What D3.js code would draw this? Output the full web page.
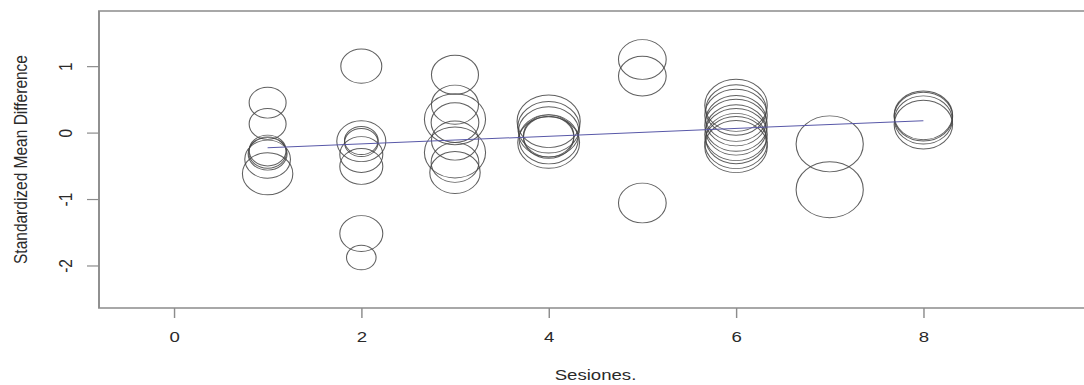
<!DOCTYPE html>
<html>
<head>
<meta charset="utf-8">
<script src="https://cdn.jsdelivr.net/npm/d3@7"></script>
<style>
  body { margin: 0; background: #fff; overflow: hidden; }
  svg { display: block; }
</style>
</head>
<body>
<div id="chart"></div>
<script>
// Study-level effects: number of sessions, standardized mean difference, relative weight
const sessions = [
  1, 1, 1, 1, 1, 1, 1,
  2, 2, 2, 2, 2, 2, 2, 2,
  3, 3, 3, 3, 3, 3, 3, 3,
  4, 4, 4, 4, 4, 4, 4,
  5, 5, 5,
  6, 6, 6, 6, 6, 6, 6, 6, 6, 6,
  7, 7,
  8, 8, 8, 8
];
const smd = [
  0.45, 0.13, -0.27, -0.30, -0.32, -0.40, -0.62,
  1.00, -0.13, -0.12, -0.15, -0.33, -0.51, -1.52, -1.88,
  0.87, 0.42, 0.20, 0.15, -0.12, -0.30, -0.45, -0.60,
  0.17, 0.08, 0.01, -0.05, -0.07, -0.10, -0.15,
  1.10, 0.85, -1.06,
  0.41, 0.34, 0.26, 0.18, 0.11, 0.04, -0.03, -0.09, -0.15, -0.21,
  -0.17, -0.86,
  0.26, 0.24, 0.19, 0.12
];
const weights = [
  0.55, 0.55, 0.55, 0.56, 0.58, 0.68, 0.75,
  0.61, 0.73, 0.50, 0.50, 0.64, 0.64, 0.64, 0.44,
  0.70, 0.70, 0.91, 0.71, 0.70, 0.91, 0.71, 0.75,
  0.94, 0.92, 0.90, 0.75, 0.75, 0.88, 0.92,
  0.71, 0.71, 0.71,
  0.93, 0.90, 0.93, 0.90, 0.93, 0.90, 0.93, 0.90, 0.93, 0.93,
  1.00, 1.00,
  0.87, 0.87, 0.86, 0.87
];

// Meta-regression fit at the ends of the session range
const fitSessions = [1, 8];
const fitSmd = [-0.23, 0.18];

const xTicks = [0, 2, 4, 6, 8];
const yTicks = [-2, -1, 0, 1];
const xTitle = "Sesiones.";
const yTitle = "Standardized Mean Difference";

const W = 1084, H = 385;
const stretch = 1.2;            // plot is drawn wider than tall
const font = "'Liberation Sans', Arial, sans-serif";
const axisColor = "#8c8c8c";
const textColor = "#2a2a2a";

const svg = d3.select("#chart").append("svg")
  .attr("width", W).attr("height", H);
svg.append("rect").attr("width", W).attr("height", H).attr("fill", "#fff");

const g = svg.append("g").attr("transform", `scale(${stretch},1)`);

const x = d3.scaleLinear().domain([-0.8, 9.8]).range([82.5, 910]);
const y = d3.scaleLinear().domain([-2.64, 1.83]).range([308, 11]);
const r = d3.scaleLinear().domain([0, 1]).range([0, 28]);

// plot frame: left, top and bottom sides (right side falls outside the page)
const [x0, x1] = x.range();
const [yb, yt] = y.range();
g.append("path")
  .attr("d", `M${x1 + 20},${yt}H${x0}V${yb}H${x1 + 20}`)
  .attr("fill", "none").attr("stroke", axisColor).attr("stroke-width", 1.6);

// x axis
g.append("g")
  .attr("transform", `translate(0,${yb})`)
  .call(d3.axisBottom(x).tickValues(xTicks).tickSize(10).tickFormat(d => String(d)))
  .call(a => {
    a.select(".domain").remove();
    a.selectAll(".tick line").attr("stroke", axisColor).attr("stroke-width", 1.2);
    a.selectAll(".tick text")
      .attr("y", 34).attr("dy", 0)
      .attr("fill", textColor)
      .style("font-family", font).style("font-size", "15.5px");
  });

// y axis with rotated labels
g.append("g")
  .attr("transform", `translate(${x0},0)`)
  .call(d3.axisLeft(y).tickValues(yTicks).tickSize(10).tickFormat(d => String(d)))
  .call(a => {
    a.select(".domain").remove();
    a.selectAll(".tick line").attr("stroke", axisColor).attr("stroke-width", 1.2);
    a.selectAll(".tick text")
      .attr("x", 0).attr("dy", 0)
      .attr("transform", "translate(-22.5,0) rotate(-90)")
      .attr("text-anchor", "middle")
      .attr("fill", textColor)
      .style("font-family", font).style("font-size", "15.5px");
  });

// axis titles
g.append("text")
  .attr("x", (x0 + x1) / 2).attr("y", 380)
  .attr("text-anchor", "middle").attr("fill", textColor)
  .style("font-family", font).style("font-size", "15.5px")
  .text(xTitle);

g.append("text")
  .attr("transform", `translate(22.5,${(yb + yt) / 2}) rotate(-90)`)
  .attr("text-anchor", "middle").attr("fill", textColor)
  .style("font-family", font).style("font-size", "15.5px")
  .text(yTitle);

// study bubbles
const studies = sessions.map((s, i) => ({ s, d: smd[i], w: weights[i] }));
g.append("g").selectAll("circle")
  .data(studies)
  .join("circle")
  .attr("cx", d => x(d.s))
  .attr("cy", d => y(d.d))
  .attr("r", d => r(d.w))
  .attr("fill", "none")
  .attr("stroke", "#444")
  .attr("stroke-width", 0.9)
  .attr("stroke-opacity", 0.85);

// fitted line
const fit = fitSessions.map((s, i) => [s, fitSmd[i]]);
g.append("path")
  .datum(fit)
  .attr("d", d3.line().x(d => x(d[0])).y(d => y(d[1])))
  .attr("fill", "none")
  .attr("stroke", "#5858a8")
  .attr("stroke-width", 1);
</script>
</body>
</html>
